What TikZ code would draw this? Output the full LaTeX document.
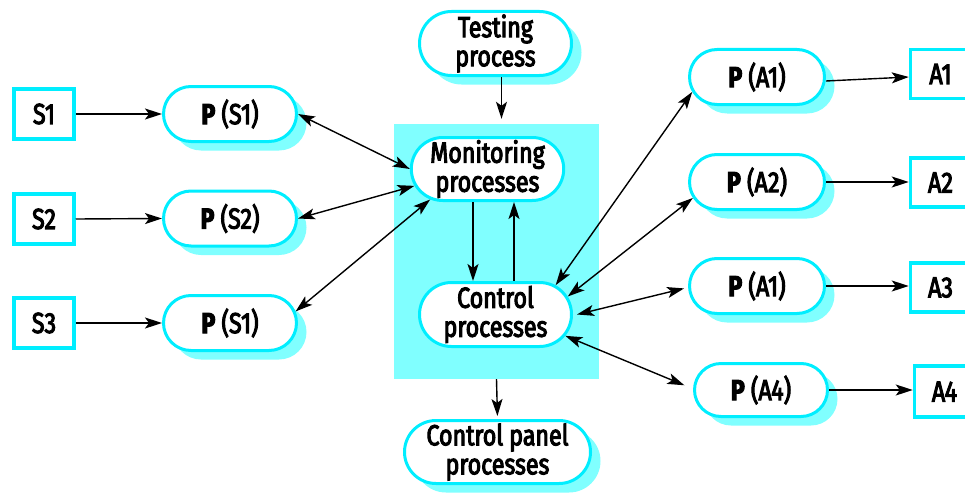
\documentclass[tikz,border=0pt]{standalone}
\usepackage{fontspec}
\usetikzlibrary{shapes.misc,shadows,arrows.meta}
\newfontfamily\lblfont{Fira Sans}[FakeStretch=0.8,FakeBold=3.5]
\definecolor{cyanline}{RGB}{0,238,255}
\definecolor{cyanfill}{RGB}{128,255,255}
\begin{document}
\begin{tikzpicture}[x=1pt,y=-1pt,
  font=\lblfont\fontsize{29}{29}\selectfont,
  pill/.style={rounded rectangle, draw=cyanline, line width=3pt, fill=white, align=center, inner sep=0pt},
  shad/.style={drop shadow={shadow xshift=10pt, shadow yshift=-9pt, fill=cyanfill, opacity=1}},
  sbox/.style={rectangle, draw=cyanline, line width=3.5pt, fill=white, minimum width=60pt, minimum height=50pt, inner sep=0pt},
  grpbox/.style={rectangle, fill=cyanfill, draw=none, inner sep=0pt},
  tip/.tip={Stealth[length=17pt,width=11pt,inset=4pt]},
  conn/.style={line width=1.4pt, -tip},
  bconn/.style={line width=1.4pt, tip-tip},
]
\useasboundingbox (0,0) rectangle (965,495);
% group rectangle
\node[grpbox, minimum width=205pt, minimum height=255pt] (grp) at (496.5,251.5) {};
% centre column
\node[pill, shad, minimum width=152pt, minimum height=64pt] (test) at (495.5,43.5) {Testing\\process};
\node[pill, minimum width=150pt, minimum height=63pt] (mon) at (487.5,169) {Monitoring\\processes};
\node[pill, minimum width=152pt, minimum height=64pt] (con) at (495.5,314.5) {Control\\processes};
\node[pill, shad, minimum width=186pt, minimum height=63pt] (cp) at (497.5,452) {Control panel\\processes};
% sensors
\node[sbox] (s1) at (44,114) {S1};
\node[sbox] (s2) at (44,219) {S2};
\node[sbox] (s3) at (44,323) {S3};
\node[pill, shad, minimum width=133pt, minimum height=55pt] (ps1) at (230,114) {{\bfseries P} (S1)};
\node[pill, shad, minimum width=133pt, minimum height=55pt] (ps2) at (230,218.5) {{\bfseries P} (S2)};
\node[pill, shad, minimum width=133pt, minimum height=55pt] (ps3) at (230,323) {{\bfseries P} (S1)};
% actuators
\node[pill, shad, minimum width=135pt, minimum height=55pt] (pa1) at (757,77) {{\bfseries P} (A1)};
\node[pill, shad, minimum width=135pt, minimum height=55pt] (pa2) at (757,182) {{\bfseries P} (A2)};
\node[pill, shad, minimum width=135pt, minimum height=55pt] (pa3) at (757,286) {{\bfseries P} (A1)};
\node[pill, shad, minimum width=133pt, minimum height=53pt] (pa4) at (761,390) {{\bfseries P} (A4)};
\node[sbox, minimum height=49pt] (a1) at (940.5,74) {A1};
\node[sbox, minimum height=49pt] (a2) at (940.5,182.5) {A2};
\node[sbox, minimum height=49pt] (a3) at (940.5,287.5) {A3};
\node[sbox, minimum height=51pt] (a4) at (944.5,391.5) {A4};
% connectors
\draw[conn] (s1.east) -- (ps1.west);
\draw[conn] (s2.east) -- (ps2.west);
\draw[conn] (s3.east) -- (ps3.west);
\draw[conn] ([yshift=-4pt]pa1.east) -- (pa1.east -| a1.west);
\draw[conn] (pa2.east) -- (pa2.east -| a2.west);
\draw[conn] (pa3.east) -- (pa3.east -| a3.west);
\draw[conn] (pa4.east) -- (pa4.east -| a4.west);
\draw[bconn] (ps1.east) -- (mon.west);
\draw[bconn] (ps2.east) -- (mon.193);
\draw[bconn] (ps3.10) -- (mon.208);
\draw[bconn] (con.26) -- (pa1.193);
\draw[bconn] (con.14) -- (pa2.194);
\draw[bconn] ([xshift=4pt]con.east) -- ([xshift=-4pt]pa3.182);
\draw[bconn] (con.343) -- ([xshift=-9pt]pa4.176);
\draw[conn] ([xshift=-14.5pt]mon.south) -- ([xshift=-22.5pt]con.north);
\draw[conn] ([xshift=18.5pt]con.north) -- ([xshift=26.5pt]mon.south);
\draw[conn, shorten >=5pt] ([xshift=6pt]test.south) -- ([xshift=5pt]grp.north);
\draw[conn, shorten >=3pt] (grp.south) -- (cp.north);
\end{tikzpicture}
\end{document}
